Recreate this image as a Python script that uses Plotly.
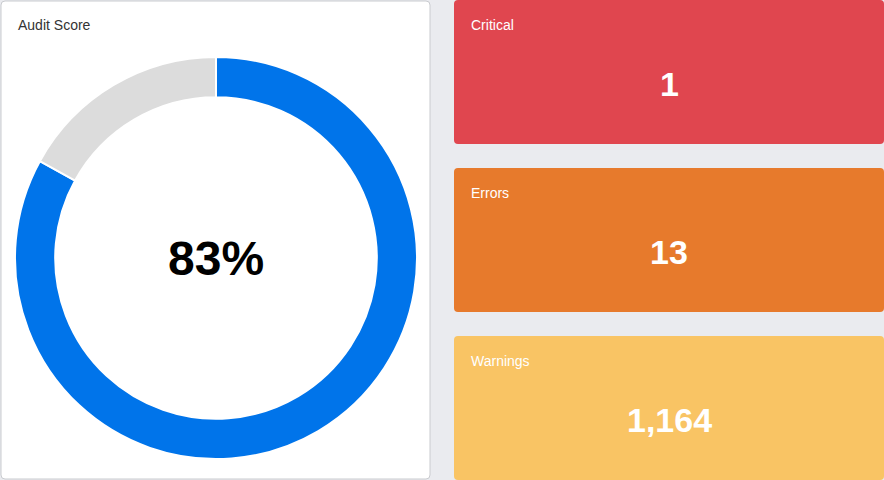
import plotly.graph_objects as go

W, H = 884, 480

score_title = "Audit Score"
score_value = 83
score_labels = ["Score", "Remaining"]
score_colors = ["#0074EA", "#DCDCDC"]

card_titles = ["Critical", "Errors", "Warnings"]
card_values = [1, 13, 1164]
card_colors = ["#E0464F", "#E77A2C", "#F9C464"]

FONT = "Arial, 'Liberation Sans', sans-serif"


def px(x):
    return x / W


def py(y):
    return 1 - y / H


def rrect(x0, y0, x1, y1, r):
    pts = [
        f"M {px(x0 + r)},{py(y0)}",
        f"L {px(x1 - r)},{py(y0)}",
        f"Q {px(x1)},{py(y0)} {px(x1)},{py(y0 + r)}",
        f"L {px(x1)},{py(y1 - r)}",
        f"Q {px(x1)},{py(y1)} {px(x1 - r)},{py(y1)}",
        f"L {px(x0 + r)},{py(y1)}",
        f"Q {px(x0)},{py(y1)} {px(x0)},{py(y1 - r)}",
        f"L {px(x0)},{py(y0 + r)}",
        f"Q {px(x0)},{py(y0)} {px(x0 + r)},{py(y0)}",
        "Z",
    ]
    return " ".join(pts)


fig = go.Figure()

fig.add_trace(go.Pie(
    values=[score_value, 100 - score_value],
    labels=score_labels,
    marker=dict(colors=score_colors, line=dict(color="white", width=2)),
    hole=0.8,
    sort=False,
    direction="clockwise",
    rotation=0,
    textinfo="none",
    hoverinfo="label+value",
    showlegend=False,
    domain=dict(x=[px(15), px(417)], y=[py(459), py(57)]),
))

shapes = []
annotations = []

# left card
shapes.append(dict(type="path", path=rrect(1, 1, 430, 479, 4), xref="paper", yref="paper",
                   fillcolor="white", line=dict(color="#C9CBCF", width=1), layer="below"))
annotations.append(dict(text=score_title, x=px(16), y=py(25), xref="paper", yref="paper",
                        xanchor="left", yanchor="middle", showarrow=False,
                        font=dict(family=FONT, size=14, color="#333333")))
annotations.append(dict(text=f"{score_value}%", x=px(216), y=py(258), xref="paper", yref="paper",
                        xanchor="center", yanchor="middle", showarrow=False,
                        font=dict(family=FONT, size=48, color="#000000", weight="bold")))

# right cards
tops = [0, 168, 336]
for title, val, col, t in zip(card_titles, card_values, card_colors, tops):
    shapes.append(dict(type="path", path=rrect(454, t, 884, t + 144, 4), xref="paper", yref="paper",
                       fillcolor=col, line=dict(width=0), layer="below"))
    annotations.append(dict(text=title, x=px(469), y=py(t + 25), xref="paper", yref="paper",
                            xanchor="left", yanchor="middle", showarrow=False,
                            font=dict(family=FONT, size=14, color="white")))
    annotations.append(dict(text=f"{val:,}", x=px(669), y=py(t + 84), xref="paper", yref="paper",
                            xanchor="center", yanchor="middle", showarrow=False,
                            font=dict(family=FONT, size=34, color="white", weight="bold")))

fig.update_layout(
    width=W, height=H,
    margin=dict(l=0, r=0, t=0, b=0),
    paper_bgcolor="#EAEBEF",
    plot_bgcolor="#EAEBEF",
    shapes=shapes,
    annotations=annotations,
    xaxis=dict(visible=False),
    yaxis=dict(visible=False),
)

fig.write_html(
    "out.html",
    config={"displayModeBar": False},
    post_script="document.body.style.margin='0';document.body.style.padding='0';document.body.style.overflow='hidden';",
)
